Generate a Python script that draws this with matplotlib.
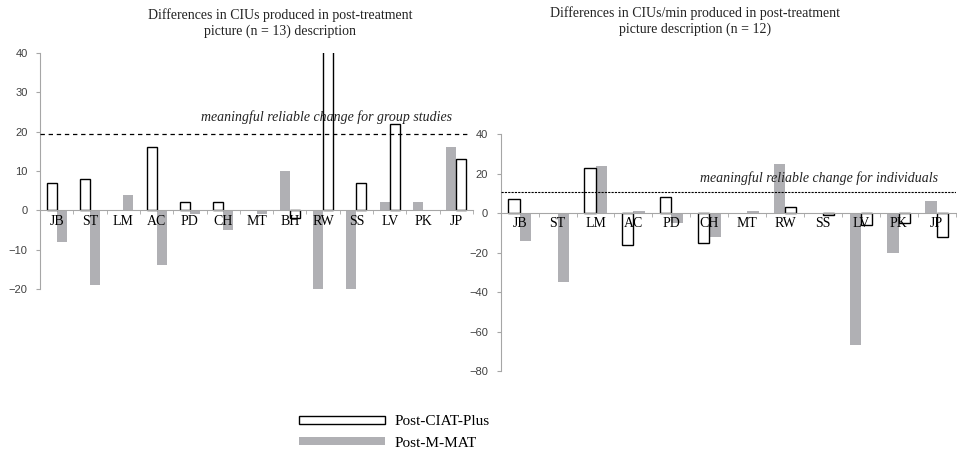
import numpy as np
import matplotlib
matplotlib.use("Agg")
import matplotlib.pyplot as plt
from matplotlib.patches import Patch

# CIUs per picture description, change after treatment
cius_names = ["JB", "ST", "LM", "AC", "PD", "CH", "MT", "BH", "RW", "SS", "LV", "PK", "JP"]
cius_ciat = [7, 8, 0, 16, 2, 2, 0, -2, 45, 7, 22, 0, 13]
cius_mmat = [-8, -19, 4, -14, -1, -5, -1, 10, -20, -20, 2, 2, 16]

# CIUs per minute, change after treatment
rate_names = ["JB", "ST", "LM", "AC", "PD", "CH", "MT", "RW", "SS", "LV", "PK", "JP"]
rate_ciat = [7, 0, 23, -16, 8, -15, 0, 3, -1, -6, -5, -12]
rate_mmat = [-14, -35, 24, 1, -5, -12, 1, 25, 0, -67, -20, 6]

group_change = 19.4
indiv_change = 11

GRAY = "#b0b0b4"
AXC = "#a6a6a6"
serif = ["Liberation Serif", "DejaVu Serif"]
sans = ["Liberation Sans", "DejaVu Sans"]
plt.rcParams["font.family"] = serif

fig = plt.figure(figsize=(9.57, 4.49), dpi=100)


def draw_panel(ax, names, ciat, mmat, ylim, yticks):
    x = np.arange(len(names))
    ciat = np.asarray(ciat)
    mmat = np.asarray(mmat)
    w = 0.3
    # the second half of the participants has the M-MAT bar first
    flip = np.array([i >= 7 for i in range(len(names))])
    off_c = np.where(flip, w / 2, -w / 2)
    # no change -> no bar
    c = ciat != 0
    m = mmat != 0
    ax.bar((x + off_c)[c], ciat[c], w, facecolor="white", edgecolor="black", linewidth=1.0, zorder=0.6)
    ax.bar((x - off_c)[m], mmat[m], w, color=GRAY, linewidth=0, zorder=0.5)
    ax.set_axisbelow("line")
    ax.set_xlim(-0.5, len(names) - 0.5)
    ax.set_ylim(*ylim)
    ax.set_yticks(yticks)
    ax.set_yticklabels([str(t).replace("-", "\u2212") for t in yticks])
    ax.set_xticks(x)
    ax.set_xticklabels(names)
    ax.set_xticks(np.arange(-0.5, len(names)), minor=True)
    ax.tick_params(axis="x", which="major", length=0, pad=3, labelsize=10)
    ax.tick_params(axis="x", which="minor", length=3, direction="out", color=AXC)
    ax.tick_params(axis="y", length=3, color=AXC, pad=6, labelsize=8, labelcolor="#404040")
    for lab in ax.get_yticklabels():
        lab.set_fontfamily(sans)
    for s in ("top", "right"):
        ax.spines[s].set_visible(False)
    ax.spines["bottom"].set_position(("data", 0))
    ax.spines["bottom"].set_color(AXC)
    ax.spines["left"].set_color(AXC)
    ax.set_facecolor("none")


ax1 = fig.add_axes([0.0418, 0.3563, 0.4525, 0.5256])
draw_panel(ax1, cius_names, cius_ciat, cius_mmat, (-20, 40), [-20, -10, 0, 10, 20, 30, 40])
ax1.axhline(group_change, xmin=0, xmax=0.985, color="black", linewidth=0.9,
            linestyle=(0, (3.5, 3)), zorder=4)
ax1.text(8.1, 23.8, "meaningful reliable change for group studies",
         style="italic", fontsize=10, ha="center", va="center", color="#222222")

ax2 = fig.add_axes([0.5232, 0.1737, 0.4755, 0.527])
draw_panel(ax2, rate_names, rate_ciat, rate_mmat, (-80, 40), [-80, -60, -40, -20, 0, 20, 40])
ax2.axhline(indiv_change, color="black", linewidth=0.8, linestyle=(0, (2, 1)), zorder=4)
ax2.text(7.9, 17.6, "meaningful reliable change for individuals",
         style="italic", fontsize=10, ha="center", va="center", color="#222222")

fig.text(0.2926, 1 - 23.5 / 449, "Differences in CIUs produced in post-treatment\npicture (n = 13) description",
         fontsize=10, ha="center", va="center", linespacing=1.25, color="#222222")
fig.text(0.7262, 1 - 21.5 / 449, "Differences in CIUs/min produced in post-treatment\npicture description (n = 12)",
         fontsize=10, ha="center", va="center", linespacing=1.25, color="#222222")

handles = [Patch(facecolor="white", edgecolor="black", linewidth=1.0),
           Patch(facecolor=GRAY, edgecolor="none")]
fig.legend(handles, ["Post-CIAT-Plus", "Post-M-MAT"], loc="center left",
           bbox_to_anchor=(0.3124, 0.037), frameon=False,
           prop={"size": 11}, handlelength=5.6, handleheight=0.4,
           handletextpad=0.65, labelspacing=0.55, borderaxespad=0, borderpad=0)

fig.savefig("out.png", dpi=100)
